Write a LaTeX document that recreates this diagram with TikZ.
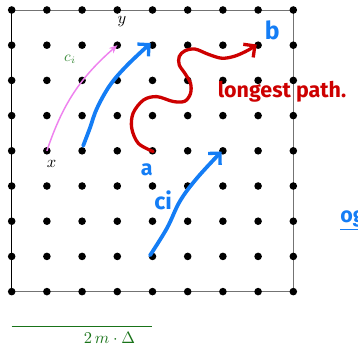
\documentclass[tikz,border=0pt]{standalone}
\usepackage{fontspec}
\newfontfamily\hand{Fira Sans}
\usetikzlibrary{arrows.meta}
\definecolor{penblue}{RGB}{20,125,245}
\definecolor{penred}{RGB}{205,0,0}
\definecolor{pinkv}{RGB}{238,130,238}
\definecolor{dgreen}{RGB}{25,115,25}
\definecolor{lgreen}{RGB}{60,140,60}
\begin{document}
\begin{tikzpicture}[x=0.75cm,y=0.75cm,
  dot/.style={circle,fill=black,inner sep=0pt,minimum size=4.6pt},
  frameline/.style={line width=0.6pt},
  pen/.style={line width=2.3pt,line cap=round,line join=round},
  barb/.style={-{Straight Barb[length=5pt,width=10pt,line width=2pt]}},
  handtext/.style={font=\hand\bfseries\fontsize{#1}{#1}\selectfont},
  lbl/.style={inner sep=0pt}
]
\useasboundingbox (-0.332,-1.525) rectangle (9.838,8.284);
% grid coordinates
\foreach \i in {0,...,8} \foreach \j in {0,...,8} \coordinate (g\i-\j) at (\i,\j);
% frame
\draw[frameline,black!55] (g0-8) -- (g8-8) -- (g8-0) -- (g0-0);
\draw[frameline,black] (g0-0) -- (g0-8);
% dots
\foreach \i in {0,...,8} \foreach \j in {0,...,8} \node[dot] (p\i-\j) at (g\i-\j) {};
% labels x, y
\node[lbl] (lx) at (1.13,3.62) {$x$};
\node[lbl] (ly) at (3.13,7.66) {$y$};
% pink arrow c_i
\draw[pinkv,line width=0.9pt,-{Stealth[length=5pt,width=4pt]}] (p1-4.center) to[bend left=15] (p3-7.center);
\node[lbl,text=lgreen,font=\small] (ci) at (1.66,6.6) {$c_i$};
% blue arrow 1
\coordinate (b1s) at (2.03,4.14);
\coordinate (b1e) at (3.95,7.06);
\draw[pen,penblue,barb] plot[smooth,tension=0.6] coordinates {(b1s) (2.22,4.64) (2.42,5.2) (2.79,5.86) (3.28,6.43) (b1e)};
% blue arrow c_i
\coordinate (b2s) at (3.93,1.03);
\coordinate (b2e) at (5.96,3.98);
\draw[pen,penblue,barb] plot[smooth,tension=0.6] coordinates {(b2s) (4.41,1.8) (4.78,2.57) (5.26,3.22) (b2e)};
% red longest path
\coordinate (rs) at (4.02,3.98);
\coordinate (re) at (6.96,7.02);
\draw[pen,penred,line width=2pt,barb] plot[smooth,tension=0.55] coordinates {(rs) (3.6,4.21) (3.41,4.64) (3.45,5.07) (3.74,5.44) (4.12,5.54) (4.59,5.40) (4.92,5.41) (5.08,5.63) (5.08,5.92) (4.92,6.2) (4.76,6.44) (4.76,6.68) (4.92,6.84) (5.21,6.89) (5.59,6.74) (5.97,6.63) (6.34,6.69) (6.72,6.86) (re)};
% handwritten texts
\node[lbl,text=penred,handtext=13] (lp) at (7.68,5.69) {longest path.};
\node[lbl,text=penblue,handtext=15] (lb) at (7.4,7.42) {b};
\node[lbl,text=penblue,handtext=13] (la) at (3.84,3.47) {a};
\node[lbl,text=penblue,handtext=14] (lci) at (4.3,2.58) {ci};
\node[lbl,text=penblue,handtext=13,anchor=west] (lr) at (9.33,2.03) {\underline{og}};
% green scale bar
\coordinate (s0) at (0,-0.99);
\coordinate (s1) at (4,-0.99);
\draw[dgreen,line width=0.9pt] (s0) -- (s1);
\node[lbl,text=dgreen] (sl) at (2.78,-1.3) {$2\,m\cdot\Delta$};
\end{tikzpicture}
\end{document}
